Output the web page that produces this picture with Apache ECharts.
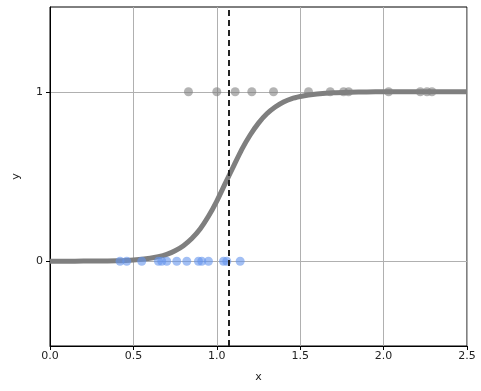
<!DOCTYPE html>
<html>
<head>
<meta charset="utf-8">
<script src="https://cdn.jsdelivr.net/npm/echarts@6/dist/echarts.min.js"></script>
<style>html,body{margin:0;padding:0;background:#fff;}#c{width:481px;height:391px;}</style>
</head>
<body>
<div id="c"></div>
<script>
// class 0 points (blue, y = 0)
const class0X = [0.42, 0.46, 0.55, 0.65, 0.67, 0.70, 0.76, 0.82, 0.89, 0.91, 0.95, 1.04, 1.06, 1.14];
// class 1 points (gray, y = 1)
const class1X = [0.83, 1.00, 1.11, 1.21, 1.34, 1.55, 1.68, 1.76, 1.79, 2.03, 2.22, 2.26, 2.29];
// fitted curve
const curveX = [0.0, 0.1, 0.2, 0.3, 0.4, 0.5, 0.6, 0.65, 0.7, 0.75, 0.8, 0.85, 0.9, 0.95, 1.0, 1.05, 1.1, 1.15, 1.2, 1.25, 1.3, 1.35, 1.4, 1.45, 1.5, 1.55, 1.6, 1.7, 1.8, 1.9, 2.0, 2.1, 2.2, 2.3, 2.4, 2.5];
const curveY = [0.000, 0.000, 0.001, 0.001, 0.003, 0.008, 0.018, 0.027, 0.041, 0.062, 0.092, 0.134, 0.19, 0.265, 0.355, 0.458, 0.56, 0.66, 0.745, 0.815, 0.87, 0.91, 0.94, 0.96, 0.972, 0.981, 0.987, 0.994, 0.997, 0.999, 1, 1, 1, 1, 1, 1];
// decision boundary
const boundaryX = 1.07;
const xTicks = [0.0, 0.5, 1.0, 1.5, 2.0, 2.5];
const yTicks = [0, 1];

const chart = echarts.init(document.getElementById('c'));
const font = 'DejaVu Sans';
chart.setOption({
  animation: false,
  grid: {left: 50, right: 14, top: 7, bottom: 45, show: true, borderColor: '#000', borderWidth: 1},
  xAxis: {
    type: 'value', min: 0, max: 2.5, interval: 0.5,
    name: 'x', nameLocation: 'middle', nameGap: 26,
    nameTextStyle: {fontFamily: font, fontSize: 11, color: '#222'},
    axisLine: {show: true, onZero: false, lineStyle: {color: '#000', width: 1}},
    axisTick: {show: true, length: 4, lineStyle: {color: '#000'}, customValues: xTicks},
    axisLabel: {fontFamily: font, fontSize: 11, color: '#222', margin: 5, customValues: xTicks,
      formatter: v => v.toFixed(1)},
    splitLine: {show: true, lineStyle: {color: '#b0b0b0', width: 1}}
  },
  yAxis: {
    type: 'value', min: -0.5, max: 1.5,
    name: 'y', nameLocation: 'middle', nameGap: 28, nameRotate: 90,
    nameTextStyle: {fontFamily: font, fontSize: 11, color: '#222'},
    axisLine: {show: true, onZero: false, lineStyle: {color: '#000', width: 1}},
    axisTick: {show: true, length: 4, lineStyle: {color: '#000'}, customValues: yTicks},
    axisLabel: {fontFamily: font, fontSize: 11, color: '#222', margin: 7, customValues: yTicks},
    splitLine: {show: true, lineStyle: {color: '#b0b0b0', width: 1}}
  },
  series: [
    {
      type: 'line', data: curveX.map((x, i) => [x, curveY[i]]),
      smooth: 0.2, showSymbol: false, z: 2,
      lineStyle: {color: '#7f7f7f', width: 5},
      markLine: {
        silent: true, symbol: 'none', label: {show: false},
        lineStyle: {color: '#222', type: [6, 4], width: 2},
        data: [{xAxis: boundaryX}]
      }
    },
    {
      type: 'scatter', data: class0X.map(x => [x, 0]), symbolSize: 9, z: 3,
      itemStyle: {color: '#6495ED', opacity: 0.6}
    },
    {
      type: 'scatter', data: class1X.map(x => [x, 1]), symbolSize: 9, z: 3,
      itemStyle: {color: '#808080', opacity: 0.6}
    }
  ]
});
</script>
</body>
</html>
